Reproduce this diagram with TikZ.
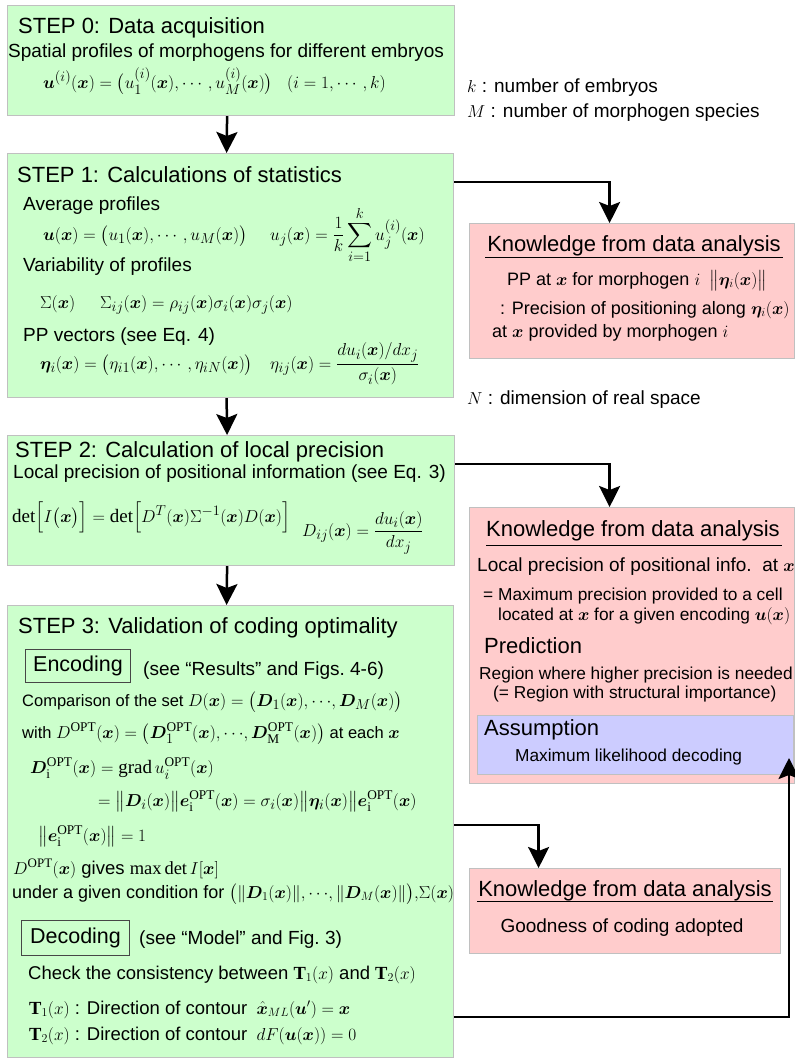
\documentclass[tikz,border=0pt]{standalone}
\usepackage{amsmath}
\usepackage{bm}
\usepackage{fontspec}
\setmainfont{Liberation Serif}
\setsansfont{Liberation Sans}
\usetikzlibrary{arrows.meta,calc}
\definecolor{stepgreen}{RGB}{204,255,204}
\definecolor{knowpink}{RGB}{255,204,204}
\definecolor{assumblue}{RGB}{204,204,255}
\definecolor{boxline}{RGB}{192,192,192}
\definecolor{tagline}{RGB}{70,70,70}
\newcommand{\xb}{\bm{x}}
\newcommand{\ub}{\bm{u}}
\newcommand{\etab}{\bm{\eta}}
\newcommand{\Db}{\bm{D}}
\newcommand{\ebm}{\bm{e}}
\newcommand{\OPT}{\mathrm{OPT}}
\tikzset{
  stepbox/.style={draw=boxline, fill=stepgreen, line width=1.2pt, anchor=north west, inner sep=0pt},
  knowbox/.style={draw=boxline, fill=knowpink, line width=1.2pt, anchor=north west, inner sep=0pt},
  assumbox/.style={draw=boxline, fill=assumblue, line width=1.2pt, anchor=north west, inner sep=0pt},
  tagbox/.style={draw=tagline, line width=1pt, anchor=north west, inner sep=0pt,
    font=\sffamily\fontsize{21.5}{24}\selectfont},
  ttl/.style={font=\sffamily\fontsize{22}{26}\selectfont, inner sep=0pt, anchor=base west},
  txt/.style={font=\sffamily\fontsize{19}{22}\selectfont, inner sep=0pt, anchor=base west},
  mtxt/.style={font=\sffamily\fontsize{18.5}{22}\selectfont, inner sep=0pt, anchor=base west},
  ntxt/.style={font=\sffamily\fontsize{16.5}{20}\selectfont, inner sep=0pt, anchor=base west},
  stxt/.style={font=\sffamily\fontsize{17.3}{20}\selectfont, inner sep=0pt, anchor=base west},
  ptxt/.style={font=\sffamily\fontsize{18}{21}\selectfont, inner sep=0pt, anchor=base west},
  eq/.style={font=\fontsize{19}{22}\selectfont, inner sep=0pt, anchor=base west},
  arr/.style={line width=2.5pt, -{Stealth[length=21pt,width=21pt,inset=4pt]}},
  uline/.style={line width=1pt}
}
\begin{document}
\begin{tikzpicture}[x=1pt,y=-1pt]
\useasboundingbox (0,0) rectangle (795,1060);
% ---------- boxes
\node[stepbox, minimum width=447pt, minimum height=110pt] (s0) at (7,5) {};
\node[stepbox, minimum width=446pt, minimum height=244pt] (s1) at (7,153) {};
\node[stepbox, minimum width=447pt, minimum height=130pt] (s2) at (7,435) {};
\node[stepbox, minimum width=446pt, minimum height=452pt] (s3) at (7,605) {};
\node[knowbox, minimum width=325pt, minimum height=135pt] (k1) at (469,223) {};
\node[knowbox, minimum width=325pt, minimum height=276pt] (k2) at (469,507) {};
\node[assumbox, minimum width=316pt, minimum height=59pt] (a1) at (477,715) {};
\node[knowbox, minimum width=311pt, minimum height=85pt] (k3) at (469,868) {};
% ---------- connectors
\draw[arr] ([xshift=-4pt]s0.south) -- ([xshift=-4pt]s1.north);
\draw[arr] ([xshift=-4pt]s1.south) -- ([xshift=-4pt]s2.north);
\draw[arr] ([xshift=-4pt]s2.south) -- ([xshift=-4pt]s3.north);
\draw[arr] ([yshift=-29pt]s1.north east) -| ([xshift=-22.5pt]k1.north);
\draw[arr] ([yshift=-29pt]s2.north east) -| ([xshift=-22.5pt]k2.north);
\draw[arr] ([yshift=-220pt]s3.north east) -| ([xshift=-86.5pt]k3.north);
\coordinate (fbtip) at (789,758);
\draw[arr] ([yshift=-412pt]s3.north east) -| (fbtip);
% ---------- STEP 0
\node[ttl] (t0) at (18,33) {STEP 0: Data acquisition};
\node[txt] (l0a) at (8,57) {Spatial profiles of morphogens for different embryos};
\node[eq] (e0a) at (43,88) {$\ub^{(i)}(\xb)=\bigl(u_1^{(i)}(\xb),\cdots,u_M^{(i)}(\xb)\bigr)$};
\node[eq] (e0b) at (287,88) {$(i=1,\cdots,k)$};
% ---------- side notes
\node[txt] (nk) at (467,92) {$k$ : number of embryos};
\node[txt] (nm) at (467,117) {$M$ : number of morphogen species};
\node[txt] (nn) at (467,404) {$N$ : dimension of real space};
% ---------- STEP 1
\node[ttl] (t1) at (17,182) {STEP 1: Calculations of statistics};
\node[txt] (l1a) at (23,210) {Average profiles};
\node[eq] (e1a) at (43,240) {$\ub(\xb)=\bigl(u_1(\xb),\cdots,u_M(\xb)\bigr)$};
\node[eq] (e1b) at (270,240) {$u_j(\xb)=\dfrac{1}{k}\displaystyle\sum_{i=1}^{k}u_j^{(i)}(\xb)$};
\node[txt] (l1b) at (23,271) {Variability of profiles};
\node[eq] (e1c) at (40,308) {$\Sigma(\xb)$};
\node[eq] (e1d) at (100,308) {$\Sigma_{ij}(\xb)=\rho_{ij}(\xb)\sigma_i(\xb)\sigma_j(\xb)$};
\node[txt] (l1c) at (23,341) {PP vectors (see Eq. 4)};
\node[eq] (e1e) at (40,369) {$\etab_i(\xb)=\bigl(\eta_{i1}(\xb),\cdots,\eta_{iN}(\xb)\bigr)$};
\node[eq] (e1f) at (270,369) {$\eta_{ij}(\xb)=\dfrac{du_i(\xb)/dx_j}{\sigma_i(\xb)}$};
% ---------- STEP 2
\node[ttl] (t2) at (15,457) {STEP 2: Calculation of local precision};
\node[txt] (l2a) at (13,478) {Local precision of positional information (see Eq. 3)};
\node[eq] (e2a) at (12,522) {$\det\Bigl[I\bigl(\xb\bigr)\Bigr]=\det\Bigl[D^T(\xb)\Sigma^{-1}(\xb)D(\xb)\Bigr]$};
\node[eq] (e2b) at (302,536) {$D_{ij}(\xb)=\dfrac{du_i(\xb)}{dx_j}$};
% ---------- STEP 3
\node[ttl] (t3) at (18,633) {STEP 3: Validation of coding optimality};
\node[tagbox, minimum width=105pt, minimum height=33pt] (enc) at (25,649) {Encoding};
\node[txt] (l3a) at (143,675) {(see “Results” and Figs.~4-6)};
\node[ntxt] (l3b) at (22,706) {Comparison of the set {\fontsize{19}{22}\selectfont$D(\xb)=\bigl(\Db_1(\xb),{\cdots},\Db_M(\xb)\bigr)$}};
\node[ntxt] (l3c) at (22,738) {with {\fontsize{19}{22}\selectfont$D^{\OPT}(\xb)=\bigl(\Db_{1}^{\OPT}(\xb),{\cdots},\Db_{\mathrm M}^{\OPT}(\xb)\bigr)$} at each {\fontsize{19}{22}\selectfont$\xb$}};
\node[eq] (e3a) at (30,773) {$\Db_{\mathrm i}^{\OPT}(\xb)=\operatorname{grad}u_i^{\OPT}(\xb)$};
\node[eq] (e3b) at (98,806) {$=\bigl\|\Db_i(\xb)\bigr\|\ebm_{\mathrm i}^{\OPT}(\xb)=\sigma_i(\xb)\bigl\|\etab_i(\xb)\bigr\|\ebm_{\mathrm i}^{\OPT}(\xb)$};
\node[eq] (e3c) at (38,841) {$\bigl\|\ebm_{\mathrm i}^{\OPT}(\xb)\bigr\|=1$};
\node[mtxt] (l3d) at (13,874) {$D^{\OPT}(\xb)$ gives $\max\det I[\xb]$};
\node[font=\sffamily\fontsize{18}{21}\selectfont, inner sep=0pt, anchor=base west] (l3e) at (12,898) {under a given condition for $\bigl(\|\Db_1(\xb)\|,{\cdots},\|\Db_M(\xb)\|\bigr),\!\Sigma(\xb)$};
\node[tagbox, minimum width=108pt, minimum height=35pt] (dec) at (21,920) {Decoding};
\node[txt] (l3f) at (139,944) {(see “Model” and Fig.~3)};
\node[mtxt] (l3g) at (28,979) {Check the consistency between $\mathbf{T}_1(x)$ and $\mathbf{T}_2(x)$};
\node[mtxt] (l3h) at (29,1014) {$\mathbf{T}_1(x)$ : Direction of contour\enspace $\hat{\xb}_{ML}(\ub')=\xb$};
\node[mtxt] (l3i) at (29,1040) {$\mathbf{T}_2(x)$ : Direction of contour\enspace $dF(\ub(\xb))=0$};
% ---------- Knowledge 1
\node[ttl, anchor=base] (kt1) at (634,251) {Knowledge from data analysis};
\draw[uline] (485,257) -- (783,257);
\node[ptxt, anchor=base] (k1a) at (637,285) {PP at $\xb$ for morphogen $i$\enspace $\bigl\|\etab_i(\xb)\bigr\|$};
\node[ptxt] (k1b) at (500,314) {: Precision of positioning along $\etab_i(\xb)$};
\node[ptxt] (k1c) at (492,337) {at $\xb$ provided by morphogen $i$};
% ---------- Knowledge 2
\node[ttl] (kt2) at (486,536) {Knowledge from data analysis};
\draw[uline] (486,545) -- (782,545);
\node[txt] (k2a) at (477,571) {Local precision of positional info.\ \ at $\xb$};
\node[stxt] (k2b) at (483,600) {= Maximum precision provided to a cell};
\node[stxt] (k2c) at (498,620) {located at $\xb$ for a given encoding $\ub(\xb)$};
\node[ttl] (pr) at (484,653) {Prediction};
\node[stxt] (k2d) at (479,679) {Region where higher precision is needed};
\node[stxt] (k2e) at (493,698) {(= Region with structural importance)};
\node[ttl] (as) at (484,735) {Assumption};
\node[stxt] (a1a) at (515,761) {Maximum likelihood decoding};
% ---------- Knowledge 3
\node[ttl, anchor=base] (kt3) at (625,896) {Knowledge from data analysis};
\draw[uline] (477,901) -- (773,901);
\node[txt, anchor=base] (k3a) at (622,932) {Goodness of coding adopted};
\end{tikzpicture}
\end{document}
